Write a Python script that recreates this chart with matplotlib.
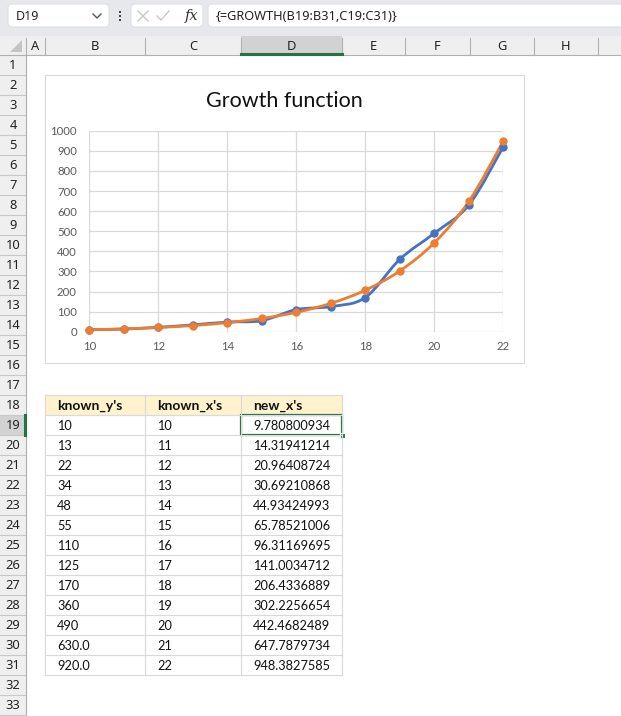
import numpy as np
import matplotlib
matplotlib.use("Agg")
import matplotlib.pyplot as plt
from matplotlib.patches import Rectangle, FancyBboxPatch, PathPatch, Polygon
from matplotlib.path import Path

# ---- data (read from the sheet)
known_y = [10, 13, 22, 34, 48, 55, 110, 125, 170, 360, 490, 630.0, 920.0]
known_x = [10, 11, 12, 13, 14, 15, 16, 17, 18, 19, 20, 21, 22]
new_y = [9.780800934, 14.31941214, 20.96408724, 30.69210868, 44.93424993,
         65.78521006, 96.31169695, 141.0034712, 206.4336889, 302.2256654,
         442.4682489, 647.7879734, 948.3827585]
y_fmt = ['{:g}'] * 11 + ['{:.1f}'] * 2
headers = ["known_y's", "known_x's", "new_x's"]
col_letters = ['A', 'B', 'C', 'D', 'E', 'F', 'G', 'H', '']
formula = "{=GROWTH(B19:B31,C19:C31)}"
cell_name = "D19"
chart_title = "Growth function"

# ---- layout (pixels)
W, H = 621, 716
col_edges = [26, 45, 145, 241, 342, 405, 470, 534, 598, 640]
hdr_top, hdr_bot = 36, 55
row_h = 20
n_rows = 33

CELL_FONT = 'Lato'
UI_FONT = 'Noto Sans'
BLUE = '#4472C4'
ORANGE = '#ED7D31'
GREEN = '#217346'


def row_top(r):
    return hdr_bot + (r - 1) * row_h


def smooth_path(xs, ys, t=1 / 6):
    xs = np.asarray(xs, float)
    ys = np.asarray(ys, float)
    n = len(xs)
    verts = [(xs[0], ys[0])]
    codes = [Path.MOVETO]
    for i in range(n - 1):
        a = i - 1 if i > 0 else i
        d = i + 2 if i + 2 < n else i + 1
        c1 = (xs[i] + (xs[i + 1] - xs[a]) * t, ys[i] + (ys[i + 1] - ys[a]) * t)
        c2 = (xs[i + 1] - (xs[d] - xs[i]) * t, ys[i + 1] - (ys[d] - ys[i]) * t)
        verts += [c1, c2, (xs[i + 1], ys[i + 1])]
        codes += [Path.CURVE4] * 3
    return Path(verts, codes)


fig = plt.figure(figsize=(W / 100, H / 100), dpi=100)
bg = fig.add_axes([0, 0, 1, 1])
bg.set_xlim(0, W)
bg.set_ylim(H, 0)
bg.axis('off')

# ribbon / formula bar
bg.add_patch(Rectangle((0, 0), W, hdr_top, color='#e6e8ec', lw=0))
bg.add_patch(FancyBboxPatch((8, 4), 101, 23, boxstyle='round,pad=0,rounding_size=4',
                            fc='white', ec='#e0e0e0', lw=0.8))
bg.add_patch(FancyBboxPatch((131, 4), 72, 23, boxstyle='round,pad=0,rounding_size=4',
                            fc='white', ec='#e0e0e0', lw=0.8))
bg.add_patch(FancyBboxPatch((208, 4), 430, 23, boxstyle='round,pad=0,rounding_size=4',
                            fc='white', ec='#e0e0e0', lw=0.8))
bg.text(16, 16, cell_name, fontsize=9, family=UI_FONT, va='center', ha='left', color='#222222')
bg.plot([93, 97, 101], [14, 18, 14], color='#555555', lw=1)
for yy in (12, 16, 20):
    bg.add_patch(Rectangle((118.5, yy - 1), 2, 2, color='#444444', lw=0))
bg.plot([138, 148], [11, 21], color='#c8c8c8', lw=1)
bg.plot([138, 148], [21, 11], color='#c8c8c8', lw=1)
bg.plot([157, 161, 169], [16, 20, 11], color='#c8c8c8', lw=1)
bg.text(192, 16, 'fx', fontsize=10.5, family='DejaVu Serif', style='italic', va='center', ha='center', color='#333333')
bg.text(216, 16, formula, fontsize=9.2, family=UI_FONT, va='center', ha='left', color='#222222')

# column headers
bg.add_patch(Rectangle((0, hdr_top), W, hdr_bot - hdr_top, color='#efefef', lw=0))
bg.add_patch(Rectangle((col_edges[3], hdr_top), col_edges[4] - col_edges[3], hdr_bot - hdr_top,
                       color='#d2d2d2', lw=0))
bg.add_patch(Polygon([[22, 40], [22, 52], [10, 52]], closed=True, color='#c4c4c4', lw=0))
for i, lab in enumerate(col_letters):
    x0, x1 = col_edges[i], col_edges[i + 1]
    bg.plot([x1, x1], [hdr_top + 2, hdr_bot], color='#b0b0b0', lw=0.8)
    bg.text((x0 + x1) / 2, (hdr_top + hdr_bot) / 2 + 0.5, lab, fontsize=9.3, family=UI_FONT,
            ha='center', va='center', color='#222222')
bg.plot([col_edges[0], col_edges[0]], [hdr_top + 2, hdr_bot], color='#b0b0b0', lw=0.8)
bg.plot([0, W], [hdr_bot, hdr_bot], color='#b0b0b0', lw=0.8)
bg.plot([col_edges[3], col_edges[4]], [hdr_bot - 1, hdr_bot - 1], color=GREEN, lw=2.2)

# row headers
bg.add_patch(Rectangle((0, hdr_bot), col_edges[0], H - hdr_bot, color='#efefef', lw=0))
bg.add_patch(Rectangle((0, row_top(19)), col_edges[0], row_h, color='#d2d2d2', lw=0))
for r in range(1, n_rows + 1):
    y0 = row_top(r)
    bg.plot([0, col_edges[0]], [y0 + row_h, y0 + row_h], color='#c8c8c8', lw=0.8)
    bg.text(col_edges[0] / 2, y0 + row_h / 2 + 0.5, str(r), fontsize=9.3, family=UI_FONT,
            ha='center', va='center', color='#222222')
bg.plot([col_edges[0], col_edges[0]], [hdr_bot, H], color='#b0b0b0', lw=0.8)
bg.plot([col_edges[0] - 1, col_edges[0] - 1], [row_top(19), row_top(20)], color=GREEN, lw=2.2)

# table
tx = col_edges[1:5]
bg.add_patch(Rectangle((tx[0], row_top(18)), tx[-1] - tx[0], row_h, color='#FFF2CC', lw=0))
for j, h in enumerate(headers):
    bg.text(tx[j] + 12, row_top(18) + row_h / 2 + 0.5, h, fontsize=10, family=CELL_FONT,
            weight='bold', ha='left', va='center', color='#111111')
cols = [[f.format(v) for f, v in zip(y_fmt, known_y)],
        [str(v) for v in known_x],
        ['{:.10g}'.format(v) for v in new_y]]
for i in range(len(known_x)):
    yc = row_top(19 + i) + row_h / 2 + 0.5
    for j in range(3):
        bg.text(tx[j] + 12, yc, cols[j][i], fontsize=9.2, family=CELL_FONT,
                ha='left', va='center', color='#111111')
for r in range(18, 19 + len(known_x) + 1):
    bg.plot([tx[0], tx[-1]], [row_top(r), row_top(r)], color='#d9d9d9', lw=0.8)
for x in tx:
    bg.plot([x, x], [row_top(18), row_top(19 + len(known_x))], color='#d9d9d9', lw=0.8)

# selected cell
bg.add_patch(Rectangle((tx[2], row_top(19)), tx[3] - tx[2], row_h, fill=False, ec=GREEN, lw=1.6))
bg.add_patch(Rectangle((tx[3] - 2.5, row_top(20) - 2.5), 5, 5, fc=GREEN, ec='white', lw=0.8))

# chart box
bg.add_patch(Rectangle((45, 75), 479, 288, fc='white', ec='#d9d9d9', lw=0.8))
bg.text(284, 101, chart_title, fontsize=15.5, family=CELL_FONT, ha='center', va='center',
        color='#111111')

# chart plot area
pl, pr, pt, pb = 89.3, 503.3, 130.7, 331.7
ax = fig.add_axes([pl / W, 1 - pb / H, (pr - pl) / W, (pb - pt) / H])
ax.set_xlim(10, 22)
ax.set_ylim(0, 1000)
ax.set_xticks(range(10, 23, 2))
ax.set_yticks(range(0, 1001, 100))
ax.patch.set_alpha(0)
for s in ax.spines.values():
    s.set_visible(False)
ax.grid(True, color='#d9d9d9', lw=0.9)
ax.set_axisbelow(True)
ax.tick_params(length=0, labelsize=8.2, labelcolor='#595959')
ax.tick_params(axis='y', pad=9)
ax.tick_params(axis='x', pad=7)
for lab in ax.get_xticklabels() + ax.get_yticklabels():
    lab.set_family(CELL_FONT)

for ys, c in ((known_y, BLUE), (new_y, ORANGE)):
    ax.add_patch(PathPatch(smooth_path(known_x, ys), fill=False, ec=c, lw=2.0,
                           capstyle='round', joinstyle='round', clip_on=False))
    ax.plot(known_x, ys, 'o', color=c, ms=5, clip_on=False)

fig.savefig('out.png', dpi=100)
